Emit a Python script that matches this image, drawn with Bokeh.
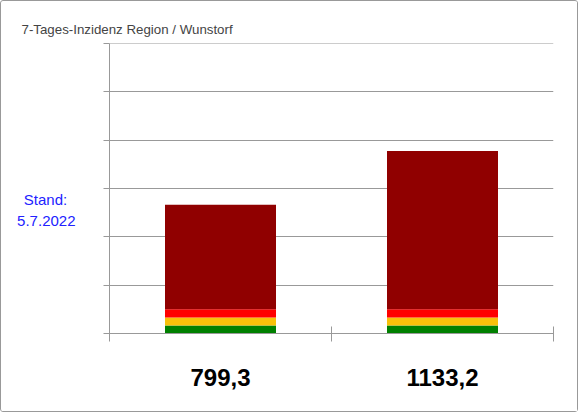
from bokeh.plotting import figure
from bokeh.models import FixedTicker, LinearAxis, Range1d
from bokeh.embed import file_html
from bokeh.resources import INLINE

# data
regions = ["Region", "Wunstorf"]
totals = [799.3, 1133.2]
total_labels = ["799,3", "1133,2"]
green = [50, 50]
yellow = [50, 50]
red = [50, 50]
darkred = [t - g - y - r for t, g, y, r in zip(totals, green, yellow, red)]
y_ticks = [0, 300, 600, 900, 1200, 1500, 1800]
title_text = "7-Tages-Inzidenz Region / Wunstorf"
stand_text = "Stand:\u00a0\u00a0\n5.7.2022"

xs = [1, 2]
src = dict(x=xs, green=green, yellow=yellow, red=red, darkred=darkred)

p = figure(width=576, height=410, output_backend="svg", toolbar_location=None,
           x_range=Range1d(0.5, 2.5), y_range=Range1d(0, 1801),
           frame_width=444, frame_height=290,
           min_border_left=108, min_border_right=24, min_border_top=42, min_border_bottom=78)
p.outline_line_color = None
p.background_fill_color = "white"
p.border_fill_color = "white"
p.styles = {"border": "1px solid #999999", "border-radius": "3px"}

p.title.text = title_text
p.title.align = "left"
p.title.offset = -88
p.title.standoff = 14
p.title.text_font = "Liberation Sans"
p.title.text_font_style = "normal"
p.title.text_font_size = "13.3px"
p.title.text_color = "#444444"

p.vbar_stack(["green", "yellow", "red", "darkred"], x="x", width=0.5, source=src,
             color=["#008000", "#f8c10a", "#ff0000", "#900000"], line_color=None)

# x axis
p.xaxis.ticker = FixedTicker(ticks=xs, minor_ticks=[0.5, 1.5, 2.5])
p.xaxis.major_label_overrides = {x: l for x, l in zip(xs, total_labels)}
p.xaxis.major_tick_line_color = None
p.xaxis.major_tick_in = 0
p.xaxis.major_tick_out = 0
p.xaxis.minor_tick_in = 7
p.xaxis.minor_tick_out = 8
p.xaxis.minor_tick_line_color = "#999999"
p.xaxis.axis_line_color = "#999999"
p.xaxis.major_label_text_font = "Liberation Sans"
p.xaxis.major_label_text_font_style = "bold"
p.xaxis.major_label_text_font_size = "24px"
p.xaxis.major_label_text_color = "#000000"
p.xaxis.major_label_standoff = 27
p.xgrid.grid_line_color = None

# y axis (ticks and grid only, no labels)
p.yaxis.ticker = FixedTicker(ticks=y_ticks, minor_ticks=[])
p.yaxis.major_label_overrides = {t: "" for t in y_ticks}
p.yaxis.major_label_text_font_size = "0px"
p.yaxis.major_tick_in = 0
p.yaxis.major_tick_out = 6
p.yaxis.major_tick_line_color = "#999999"
p.yaxis.axis_line_color = "#999999"
p.yaxis.minor_tick_line_color = None
p.ygrid.ticker = FixedTicker(ticks=y_ticks)
p.ygrid.grid_line_color = "#999999"

# "Stand" note as an outer left axis label
stand_axis = LinearAxis(ticker=FixedTicker(ticks=[767], minor_ticks=[]),
                        major_label_overrides={767: stand_text})
stand_axis.axis_line_color = None
stand_axis.major_tick_line_color = None
stand_axis.minor_tick_line_color = None
stand_axis.major_tick_in = 0
stand_axis.major_tick_out = 0
stand_axis.major_label_standoff = 28
stand_axis.major_label_text_font = "Liberation Sans"
stand_axis.major_label_text_font_size = "15px"
stand_axis.major_label_text_color = "#2222ff"
p.add_layout(stand_axis, "left")

open("out.html", "w").write(file_html(p, INLINE))
